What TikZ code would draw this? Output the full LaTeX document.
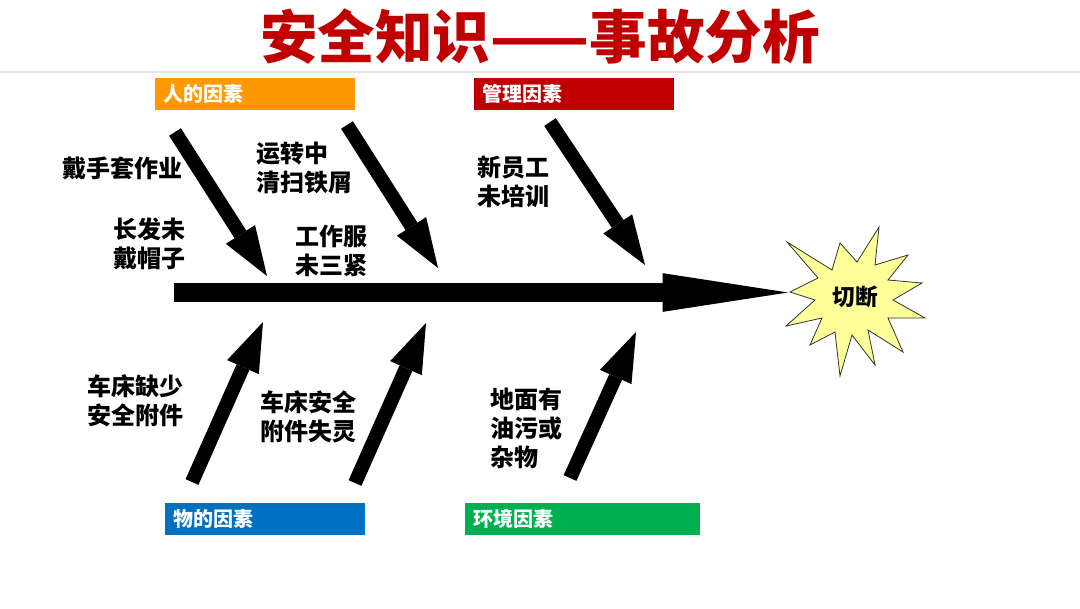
\documentclass[tikz,border=0pt]{standalone}
\usepackage{fontspec}
\setmainfont{Noto Sans CJK SC}
\usetikzlibrary{arrows.meta}
\definecolor{TitleRed}{RGB}{192,0,0}
\definecolor{HumanOrange}{RGB}{255,153,0}
\definecolor{MgmtRed}{RGB}{192,0,0}
\definecolor{ThingBlue}{RGB}{0,112,192}
\definecolor{EnvGreen}{RGB}{0,176,80}
\definecolor{BurstYellow}{RGB}{255,255,153}

\begin{document}
\begin{tikzpicture}[x=0.75pt, y=-0.75pt,
    factor/.style={fill=#1, text=white, anchor=west, inner xsep=6pt, inner ysep=0pt, minimum height=24pt, text width=138pt, align=left, font=\bfseries\fontsize{15}{18}\selectfont},
    cause/.style={inner sep=0pt, font=\bfseries\fontsize{18}{21.75}\selectfont},
    bone/.style={line width=10.5pt, -{Triangle[length=37pt, width=26pt, line width=0pt]}},
    spine/.style={line width=14.5pt, -{Triangle[length=94pt, width=29pt, line width=0pt]}}]
    \useasboundingbox (0,0) rectangle (1080,608);

    % Title
    \node[text=TitleRed, font=\bfseries\fontsize{43.2}{47}\selectfont] (title) at (540,37) {安全知识——事故分析};
    \draw[gray!20, line width=1pt] (0,72) -- (1080,72);

    % Factor boxes
    \node[factor=HumanOrange] (human) at (155,94) {人的因素};
    \node[factor=MgmtRed] (mgmt) at (474,94) {管理因素};
    \node[factor=ThingBlue] (thing) at (165,519) {物的因素};
    \node[factor=EnvGreen, text width=164pt] (env) at (465,519) {环境因素};

    % Causes
    \node[cause] (gloves) at (122,168) {戴手套作业};
    \node[cause, align=center] (hair) at (149,244) {长发未\\戴帽子};
    \node[cause, align=left, anchor=west] (sweep) at (256,167.5) {运转中\\清扫铁屑};
    \node[cause, align=center] (uniform) at (331,251) {工作服\\未三紧};
    \node[cause, align=center] (newstaff) at (513,182) {新员工\\未培训};
    \node[cause, align=center] (lathe) at (135,401) {车床缺少\\安全附件};
    \node[cause, align=left, anchor=west] (guard) at (260,417) {车床安全\\附件失灵};
    \node[cause, align=left, anchor=west] (floor) at (490,428.5) {地面有\\油污或\\杂物};

    % Result
    \draw[fill=BurstYellow, draw=black!80, line width=0.6pt]
        (787,242) -- (832,270) -- (840,243) -- (857,262) -- (879,227) -- (875,265)
        -- (908,255) -- (888,280) -- (922,283) -- (893,300) -- (925,318) -- (888,318)
        -- (903,352) -- (868,330) -- (875,365) -- (852,335) -- (840,376) -- (835,332)
        -- (810,345) -- (822,318) -- (786,326) -- (815,300) -- (790,292) -- (818,278) -- cycle;
    \node[font=\bfseries\fontsize{17}{20}\selectfont] (cut) at (855,297) {切断};

    % Bones
    \coordinate (tail) at (174,292.5);
    \coordinate (head) at (788,292.5);
    \draw[spine] (tail) -- (head);
    \coordinate (b1s) at (175,132); \coordinate (b1e) at (267,276);
    \coordinate (b2s) at (347,125); \coordinate (b2e) at (438,268);
    \coordinate (b3s) at (550,122); \coordinate (b3e) at (645,265);
    \coordinate (b4s) at (192,482); \coordinate (b4e) at (263,322);
    \coordinate (b5s) at (355,483); \coordinate (b5e) at (426,323);
    \coordinate (b6s) at (570,478); \coordinate (b6e) at (636,332);
    \foreach \b in {1,...,6}
        \draw[bone] (b\b s) -- (b\b e);
\end{tikzpicture}
\end{document}
